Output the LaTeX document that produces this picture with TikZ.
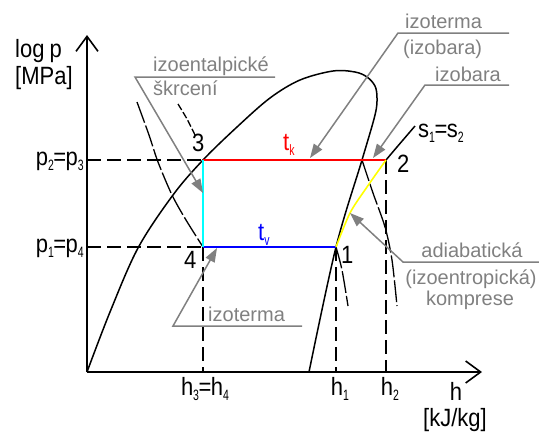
\documentclass[tikz,border=0pt]{standalone}
\usepackage{fontspec}
\setmainfont{Liberation Sans}
\newfontfamily\cadfont{Liberation Sans}[FakeStretch=0.88]
\newfontfamily\cadsub{Liberation Sans}[FakeStretch=0.7]
\usetikzlibrary{arrows.meta}
\definecolor{annot}{RGB}{128,128,128}
\definecolor{cyanl}{RGB}{0,255,255}
\definecolor{yell}{RGB}{255,255,0}
\newcommand\lowsub[1]{\raisebox{-5pt}{\cadsub\fontsize{15}{15}\selectfont #1}}
\newcommand\eqs{\kern-0.5pt=\kern-0.5pt}
\begin{document}
\begin{tikzpicture}[x=1pt,y=-1pt,
  axis/.style={line width=1.6pt, -{Straight Barb[length=15pt,width=22pt]}},
  curve/.style={line width=1.5pt},
  thincurve/.style={line width=1.3pt, dash pattern=on 22pt off 3pt},
  shortcurve/.style={line width=1.3pt, dash pattern=on 7pt off 2.5pt},
  guide/.style={line width=1.3pt, dash pattern=on 14pt off 6pt},
  proc/.style={line width=1.6pt},
  leader/.style={draw=annot, line width=1.5pt, -{Triangle[length=14pt,width=10pt]}},
  lbl/.style={font=\cadfont\fontsize{25}{27}\selectfont, inner sep=0pt},
  note/.style={font=\fontsize{20}{22}\selectfont, text=annot, inner sep=0pt},
]
\useasboundingbox (0,0) rectangle (539,432);

% key points
\coordinate (O) at (87,372);
\coordinate (ytip) at (87,35);
\coordinate (xtip) at (482,372);
\coordinate (P3) at (203,160);
\coordinate (P4) at (203,247);
\coordinate (P1) at (336,247);
\coordinate (P2) at (386,160);
\coordinate (Yp2) at (87,160);
\coordinate (Yp1) at (87,247);
\coordinate (H3) at (203,372);
\coordinate (H1) at (336,372);
\coordinate (H2) at (386,372);

% axes
\draw[axis] (O) -- (ytip);
\draw[axis] (O) -- (xtip);

% dashed guides
\draw[guide] (Yp2) -- (P3);
\draw[guide] (Yp1) -- (P4);
\draw[guide] (P4) -- (H3);
\draw[guide] (P1) -- (H1);
\draw[guide] (P2) -- (H2);

% saturation dome
\draw[curve] plot[smooth, tension=0.55] coordinates {(O) (110,312) (138,248) (173,195) (P3) (237,127) (270,98) (300,80) (333,71) (355,72) (367,77) (375,86) (377,98) (375,115) (362,160) (P1) (309,372)};

% other curves
\draw[thincurve] plot[smooth] coordinates {(137,102) (149,135) (158,162) (172,195) (186,220) (P4)};
\draw[shortcurve] plot[smooth] coordinates {(178,104) (187,119) (195,135)};
\draw[thincurve] plot[smooth] coordinates {(362,160) (373,193) (385,227) (392,260) (397,306)};
\draw[thincurve] plot[smooth] coordinates {(P1) (342,270) (348,306)};
\draw[curve] plot[smooth] coordinates {(P2) (397,147) (415,126)};

% cycle
\draw[proc, red] (P3) -- (P2);
\draw[proc, blue] (P4) -- (P1);
\draw[proc, cyanl] (P3) -- (P4);
\draw[proc, yell] plot[smooth] coordinates {(P1) (350,213) (367,187) (P2)};

% annotations
\node[note, anchor=base west] (n1a) at (153,71) {izoentalpické};
\node[note, anchor=base west] (n1b) at (153,95) {škrcení};
\coordinate (L1a) at (275,77);
\coordinate (L1b) at (135,77);
\coordinate (A1) at (203,193);
\draw[leader] (L1a) -- (L1b) -- (A1);

\node[note, anchor=base west] (n2a) at (405,28) {izoterma};
\node[note, anchor=base west] (n2b) at (403,54) {(izobara)};
\coordinate (L2a) at (509,33);
\coordinate (L2b) at (398,33);
\coordinate (A2) at (310,158);
\draw[leader] (L2a) -- (L2b) -- (A2);

\node[note, anchor=base west] (n3) at (435,81) {izobara};
\coordinate (L3a) at (509,85);
\coordinate (L3b) at (425,85);
\coordinate (A3) at (373,158);
\draw[leader] (L3a) -- (L3b) -- (A3);

\node[note, anchor=base] (n4a) at (472,257) {adiabatická};
\node[note, anchor=base] (n4b) at (471,284) {(izoentropická)};
\node[note, anchor=base] (n4c) at (470,305) {komprese};
\coordinate (L4a) at (539,262);
\coordinate (L4b) at (403,262);
\coordinate (A4) at (350,213);
\draw[leader] (L4a) -- (L4b) -- (A4);

\node[note, anchor=base west] (n5) at (208,321) {izoterma};
\coordinate (L5a) at (302,326);
\coordinate (L5b) at (173,326);
\coordinate (A5) at (217,248);
\draw[leader] (L5a) -- (L5b) -- (A5);

% black labels
\node[lbl, anchor=base west] (ly1) at (15,57) {log\hspace{5pt}p};
\node[lbl, anchor=base west] (ly2) at (15,84) {[MPa]};
\node[lbl, anchor=base east] (lp23) at (84,165) {p\lowsub{2}\eqs p\lowsub{3}};
\node[lbl, anchor=base east] (lp14) at (84,252) {p\lowsub{1}\eqs p\lowsub{4}};
\node[lbl, anchor=base] (lh34) at (205,395) {h\lowsub{3}\eqs h\lowsub{4}};
\node[lbl, anchor=base] (lh1) at (340,395) {h\lowsub{1}};
\node[lbl, anchor=base] (lh2) at (390,395) {h\lowsub{2}};
\node[lbl, anchor=base] (lh) at (456,400) {h};
\node[lbl, anchor=base] (lkj) at (455,426) {[kJ/kg]};
\node[lbl, anchor=base west] (ls) at (418,137) {s\lowsub{1}\eqs s\lowsub{2}};
\node[lbl, anchor=base west] (l1) at (341,263) {1};
\node[lbl, anchor=base west] (l2) at (397,172) {2};
\node[lbl, anchor=base west] (l3) at (192,151) {3};
\node[lbl, anchor=base west] (l4) at (184,268) {4};
\node[lbl, anchor=base west, text=red] (ltk) at (283,150) {t\lowsub{k}};
\node[lbl, anchor=base west, text=blue] (ltv) at (258,240) {t\lowsub{v}};
\end{tikzpicture}
\end{document}
